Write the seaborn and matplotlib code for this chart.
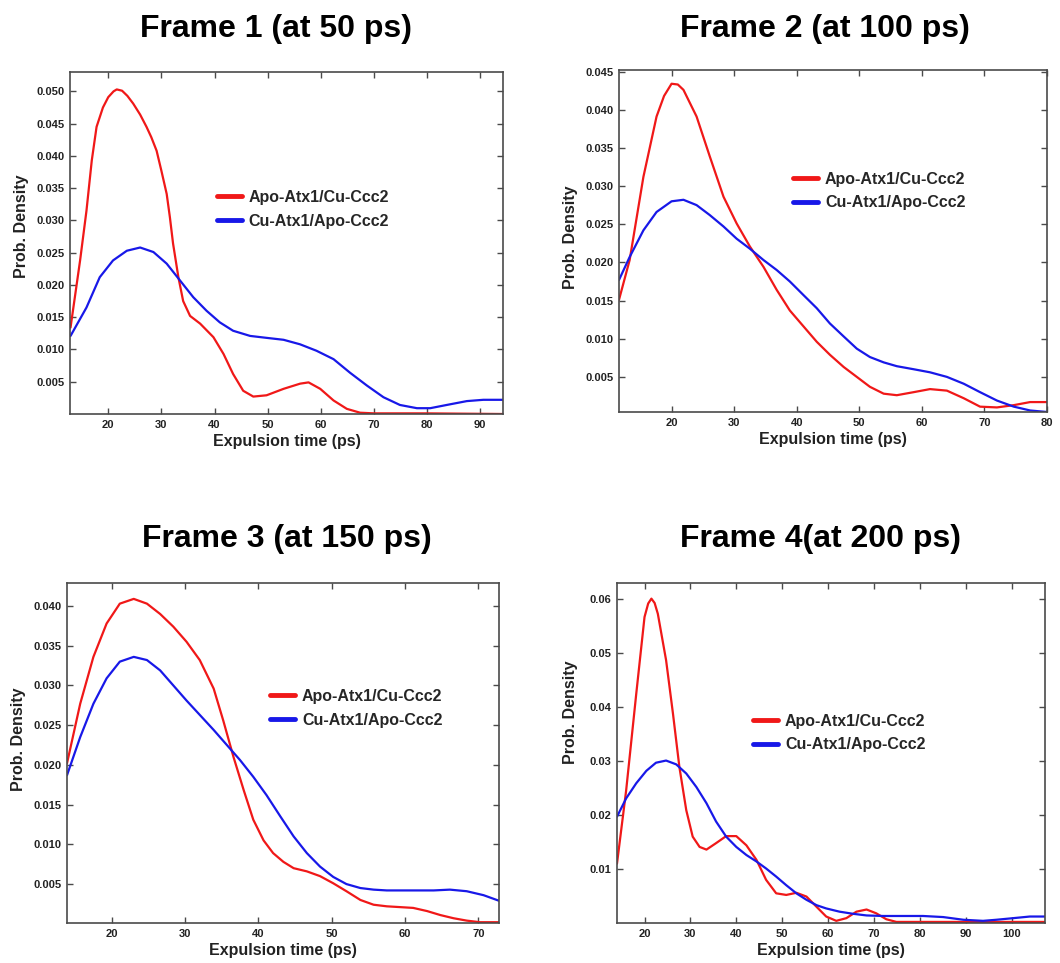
import numpy as np
import pandas as pd
import matplotlib
matplotlib.use("Agg")
import matplotlib.pyplot as plt
import seaborn as sns

# ---------------- data ----------------
series_names = ["Apo-Atx1/Cu-Ccc2", "Cu-Atx1/Apo-Ccc2"]
series_colors = ["#f01818", "#1818e8"]

titles = ["Frame 1 (at 50 ps)", "Frame 2 (at 100 ps)",
          "Frame 3 (at 150 ps)", "Frame 4(at 200 ps)"]

# Frame 1
f1_apo_x = [12.9, 14.7, 15.9, 16.9, 17.8, 19.0, 20.0, 21.0, 21.6, 22.6, 23.6, 24.7,
            26.0, 27.2, 28.1, 29.1, 30.0, 31.0, 31.6, 32.2, 33.2, 34.1, 35.4, 37.3,
            39.8, 41.7, 43.5, 45.4, 47.3, 49.8, 53.0, 56.1, 57.7, 59.9, 62.4, 64.9,
            67.4, 70.0, 80.0, 94.3]
f1_apo_y = [0.0134, 0.0238, 0.0315, 0.0393, 0.0445, 0.0475, 0.0491, 0.0500, 0.0503,
            0.0501, 0.0493, 0.0481, 0.0464, 0.0445, 0.0429, 0.0408, 0.0377, 0.0341,
            0.0305, 0.0264, 0.0212, 0.0175, 0.0152, 0.0140, 0.0119, 0.0093, 0.0062,
            0.0036, 0.0027, 0.0029, 0.0039, 0.0047, 0.0049, 0.0039, 0.0021, 0.0008,
            0.0002, 0.0001, 0.0001, 0.0000]
f1_cu_x = [12.9, 15.9, 18.4, 20.9, 23.5, 26.0, 28.5, 31.0, 33.5, 36.0, 38.5, 41.0,
           43.5, 46.7, 49.8, 53.0, 56.1, 59.2, 62.4, 65.5, 68.7, 71.8, 74.9, 78.1,
           80.6, 83.7, 87.5, 90.6, 94.3]
f1_cu_y = [0.0121, 0.0165, 0.0212, 0.0238, 0.0253, 0.0258, 0.0251, 0.0233, 0.0207,
           0.0181, 0.0160, 0.0142, 0.0129, 0.0121, 0.0118, 0.0115, 0.0108, 0.0098,
           0.0085, 0.0064, 0.0044, 0.0026, 0.0014, 0.0009, 0.0009, 0.0014, 0.0020,
           0.0022, 0.0022]

# Frame 2
f2_apo_x = [11.6, 13.3, 15.5, 17.6, 18.8, 20.0, 21.0, 21.9, 24.0, 26.1, 28.3, 30.4,
            32.5, 34.7, 36.8, 38.9, 41.1, 43.2, 45.3, 47.5, 49.6, 51.7, 53.9, 56.0,
            58.7, 61.3, 64.0, 66.7, 69.3, 72.0, 74.7, 77.3, 80.0]
f2_apo_y = [0.0151, 0.0203, 0.0312, 0.0391, 0.0418, 0.0434, 0.0433, 0.0426, 0.0391,
            0.0339, 0.0286, 0.0251, 0.0221, 0.0194, 0.0164, 0.0137, 0.0116, 0.0096,
            0.0079, 0.0063, 0.0050, 0.0037, 0.0028, 0.0026, 0.0030, 0.0034, 0.0032,
            0.0022, 0.0011, 0.0010, 0.0013, 0.0017, 0.0017]
f2_cu_x = [11.6, 13.3, 15.5, 17.6, 20.0, 21.9, 24.0, 26.1, 28.3, 30.4, 32.5, 34.7,
           36.8, 38.9, 41.1, 43.2, 45.3, 47.5, 49.6, 51.7, 53.9, 56.0, 58.7, 61.3,
           64.0, 66.7, 69.3, 72.0, 74.7, 77.3, 80.0]
f2_cu_y = [0.0177, 0.0207, 0.0242, 0.0266, 0.0280, 0.0282, 0.0275, 0.0262, 0.0247,
           0.0231, 0.0218, 0.0203, 0.0190, 0.0175, 0.0157, 0.0140, 0.0120, 0.0103,
           0.0087, 0.0076, 0.0069, 0.0064, 0.0060, 0.0056, 0.0050, 0.0041, 0.0030,
           0.0019, 0.0011, 0.0006, 0.0004]

# Frame 3
f3_apo_x = [13.9, 15.7, 17.5, 19.3, 21.1, 23.0, 24.8, 26.6, 28.4, 30.2, 32.0, 33.9,
            35.2, 36.6, 38.0, 39.3, 40.7, 42.0, 43.4, 44.8, 46.6, 48.4, 50.2, 52.0,
            53.9, 55.7, 57.5, 59.3, 61.1, 63.0, 64.8, 66.6, 68.4, 70.2, 72.8]
f3_apo_y = [0.0202, 0.0277, 0.0336, 0.0378, 0.0403, 0.0409, 0.0403, 0.0390, 0.0374,
            0.0355, 0.0332, 0.0296, 0.0256, 0.0210, 0.0168, 0.0131, 0.0105, 0.0089,
            0.0078, 0.0070, 0.0066, 0.0060, 0.0051, 0.0041, 0.0030, 0.0024, 0.0022,
            0.0021, 0.0020, 0.0016, 0.0011, 0.0007, 0.0004, 0.0002, 0.0002]
f3_cu_x = [13.9, 15.7, 17.5, 19.3, 21.1, 23.0, 24.8, 26.6, 28.4, 30.2, 32.0, 33.9,
           35.7, 37.5, 39.3, 41.1, 43.0, 44.8, 46.6, 48.4, 50.2, 52.0, 53.9, 55.7,
           57.5, 59.3, 61.6, 63.9, 66.1, 68.4, 70.7, 72.8]
f3_cu_y = [0.0187, 0.0235, 0.0277, 0.0309, 0.0330, 0.0336, 0.0332, 0.0319, 0.0300,
           0.0281, 0.0263, 0.0244, 0.0225, 0.0206, 0.0185, 0.0162, 0.0135, 0.0110,
           0.0089, 0.0072, 0.0059, 0.0050, 0.0045, 0.0043, 0.0042, 0.0042, 0.0042,
           0.0042, 0.0043, 0.0041, 0.0036, 0.0029]

# Frame 4
f4_apo_x = [14.0, 16.0, 18.2, 20.0, 20.8, 21.5, 22.2, 22.9, 24.7, 26.2, 27.6, 29.1,
            30.5, 32.0, 33.5, 35.6, 37.8, 40.0, 42.2, 44.4, 46.5, 48.7, 50.9, 53.1,
            55.3, 57.5, 59.6, 61.8, 64.0, 66.2, 68.4, 70.5, 72.7, 74.9, 80.0, 90.0,
            100.0, 107.3]
f4_apo_y = [0.0110, 0.0246, 0.0425, 0.0567, 0.0592, 0.0601, 0.0593, 0.0573, 0.0487,
            0.0388, 0.0289, 0.0209, 0.0160, 0.0141, 0.0136, 0.0148, 0.0161, 0.0161,
            0.0144, 0.0117, 0.0080, 0.0055, 0.0052, 0.0056, 0.0049, 0.0030, 0.0012,
            0.0004, 0.0009, 0.0021, 0.0025, 0.0018, 0.0007, 0.0002, 0.0002, 0.0002,
            0.0002, 0.0002]
f4_cu_x = [14.0, 16.0, 18.2, 20.4, 22.5, 24.7, 26.9, 29.1, 31.3, 33.5, 35.6, 37.8,
           40.0, 42.2, 44.4, 46.5, 48.7, 50.9, 53.1, 55.3, 57.5, 59.6, 62.5, 65.5,
           68.4, 72.0, 76.4, 80.7, 85.1, 89.5, 93.8, 96.7, 100.4, 104.0, 107.3]
f4_cu_y = [0.0197, 0.0231, 0.0259, 0.0282, 0.0297, 0.0301, 0.0294, 0.0277, 0.0252,
           0.0222, 0.0188, 0.0160, 0.0141, 0.0126, 0.0114, 0.0101, 0.0086, 0.0070,
           0.0055, 0.0043, 0.0033, 0.0027, 0.0021, 0.0017, 0.0014, 0.0013, 0.0013,
           0.0013, 0.0011, 0.0006, 0.0004, 0.0006, 0.0009, 0.0012, 0.0012]

# axis ranges and ticks per frame
xlims = [(12.8, 94.3), (11.6, 80.0), (13.9, 72.8), (14.0, 107.3)]
ylims = [(0.0, 0.053), (0.0004, 0.0452), (0.0001, 0.0429), (0.0, 0.063)]
xticks = [list(range(20, 91, 10)), list(range(20, 81, 10)),
          list(range(20, 71, 10)), list(range(20, 101, 10))]
yticks = [[0.005, 0.010, 0.015, 0.020, 0.025, 0.030, 0.035, 0.040, 0.045, 0.050],
          [0.005, 0.010, 0.015, 0.020, 0.025, 0.030, 0.035, 0.040, 0.045],
          [0.005, 0.010, 0.015, 0.020, 0.025, 0.030, 0.035, 0.040],
          [0.01, 0.02, 0.03, 0.04, 0.05, 0.06]]
ytick_fmt = ["{:.3f}", "{:.3f}", "{:.3f}", "{:.2f}"]

curves = [
    ((f1_apo_x, f1_apo_y), (f1_cu_x, f1_cu_y)),
    ((f2_apo_x, f2_apo_y), (f2_cu_x, f2_cu_y)),
    ((f3_apo_x, f3_apo_y), (f3_cu_x, f3_cu_y)),
    ((f4_apo_x, f4_apo_y), (f4_cu_x, f4_cu_y)),
]

# ---------------- layout (figure pixels) ----------------
W, H = 1060, 963
axes_px = [(70, 72, 503, 414), (619, 70, 1047, 412),
           (67, 583, 499, 923), (617, 583, 1045, 923)]
title_px = [(275.5, 37), (824.5, 37), (286.5, 547), (820.5, 547)]
legend_anchor = [(0.339, 0.599), (0.4065, 0.646), (0.470, 0.632), (0.318, 0.559)]
ylabel_pos = [(-0.095, 0.55), (-0.095, 0.51), (-0.095, 0.54), (-0.092, 0.62)]

sns.set_theme(style="ticks")
plt.rcParams["font.family"] = ["Liberation Sans", "DejaVu Sans"]
plt.rcParams["font.weight"] = "bold"

fig = plt.figure(figsize=(W / 100, H / 100), dpi=100)
fig.patch.set_facecolor("white")

spine_col = "#4a4a4a"

for i in range(4):
    l, t, r, b = axes_px[i]
    ax = fig.add_axes([l / W, 1 - b / H, (r - l) / W, (b - t) / H])
    (ax_x, ax_y), (cu_x, cu_y) = curves[i]
    df = pd.concat([
        pd.DataFrame({"time": ax_x, "density": ax_y, "system": series_names[0]}),
        pd.DataFrame({"time": cu_x, "density": cu_y, "system": series_names[1]}),
    ], ignore_index=True)
    sns.lineplot(data=df, x="time", y="density", hue="system",
                 hue_order=series_names, palette=series_colors,
                 estimator=None, sort=True, linewidth=1.6, ax=ax)
    for ln in ax.lines:
        ln.set_solid_joinstyle("round")

    ax.set_xlim(*xlims[i])
    ax.set_ylim(*ylims[i])
    ax.set_xticks(xticks[i])
    ax.set_xticklabels([str(v) for v in xticks[i]])
    ax.set_yticks(yticks[i])
    ax.set_yticklabels([ytick_fmt[i].format(v) for v in yticks[i]])

    ax.tick_params(direction="in", length=4, width=1.0, color=spine_col,
                   top=True, right=True, labelsize=8, pad=4)
    for lab in ax.get_xticklabels() + ax.get_yticklabels():
        lab.set_fontweight("bold")
        lab.set_color("#222222")
    for sp in ax.spines.values():
        sp.set_color(spine_col)
        sp.set_linewidth(1.2)

    ax.set_xlabel("Expulsion time (ps)", fontsize=11.5, fontweight="bold",
                  labelpad=3, color="#222222")
    ax.set_ylabel("Prob. Density", fontsize=11.5, fontweight="bold",
                  color="#222222")
    ax.yaxis.set_label_coords(*ylabel_pos[i])

    handles, labels = ax.get_legend_handles_labels()
    leg = ax.legend(handles, labels, loc="center left",
                    bbox_to_anchor=legend_anchor[i], frameon=False,
                    borderpad=0, borderaxespad=0, handlelength=1.55,
                    handletextpad=0.45, labelspacing=0.55,
                    prop={"size": 11.5, "weight": "bold"})
    for ln in leg.get_lines():
        ln.set_linewidth(3.5)

    tx, ty = title_px[i]
    fig.text(tx / W, 1 - ty / H, titles[i], ha="center", va="baseline",
             fontsize=23, fontweight="bold", color="black")

fig.savefig("out.png", dpi=100, facecolor="white")
